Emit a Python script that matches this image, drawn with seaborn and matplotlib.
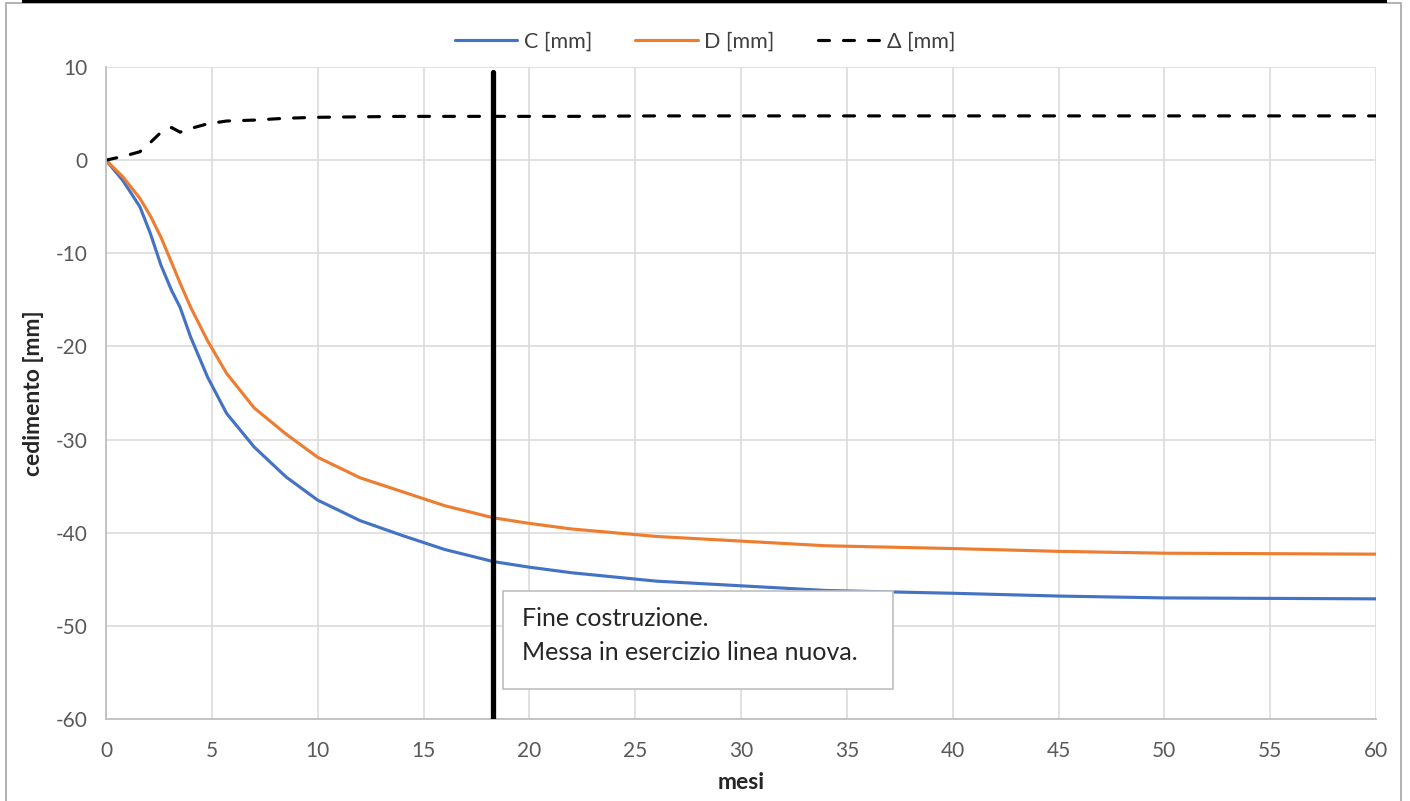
import pandas as pd
import numpy as np
import matplotlib
matplotlib.use("Agg")
import matplotlib.pyplot as plt
import seaborn as sns
from matplotlib.patches import Rectangle

# mesi e cedimenti
mesi = [0, 0.8, 1.6, 2.1, 2.6, 3.1, 3.5, 4.0, 4.8, 5.7, 7.0, 8.5, 10, 12, 14, 16,
        18.3, 20, 22, 26, 30, 34, 40, 45, 50, 55, 60]
ced_C = [0, -2.2, -5.0, -7.9, -11.3, -14.0, -15.8, -19.0, -23.3, -27.2, -30.8, -34.0,
         -36.5, -38.7, -40.3, -41.8, -43.1, -43.7, -44.3, -45.2, -45.7, -46.2, -46.5,
         -46.8, -47.0, -47.05, -47.1]
ced_D = [0, -1.8, -4.1, -6.0, -8.3, -11.0, -13.2, -15.8, -19.4, -22.9, -26.6, -29.4,
         -31.9, -34.1, -35.6, -37.1, -38.4, -39.0, -39.6, -40.4, -40.9, -41.4, -41.7,
         -42.0, -42.2, -42.25, -42.3]
delta = [0, 0.4, 0.9, 1.9, 3.0, 3.5, 3.0, 3.4, 3.9, 4.2, 4.3, 4.5, 4.6, 4.65, 4.7,
         4.7, 4.7, 4.7, 4.7, 4.75, 4.75, 4.75, 4.75, 4.75, 4.75, 4.75, 4.75]

fine_costruzione = 18.3
nota = ["Fine costruzione.", "Messa in esercizio linea nuova."]

sns.set_style("white")
plt.rcParams['font.family'] = ['Lato', 'DejaVu Sans']
plt.rcParams['axes.unicode_minus'] = False

df = pd.DataFrame({"mesi": mesi, "C [mm]": ced_C, "D [mm]": ced_D, "Δ [mm]": delta})

W, H = 1410, 801
fig = plt.figure(figsize=(W / 100, H / 100), dpi=100)
ax = fig.add_axes([106 / W, 1 - 719 / H, (1376 - 106) / W, (719 - 67) / H])

lw = 2.25
sns.lineplot(data=df, x="mesi", y="C [mm]", ax=ax, color="#4472C4", lw=lw, label="C [mm]")
sns.lineplot(data=df, x="mesi", y="D [mm]", ax=ax, color="#ED7D31", lw=lw, label="D [mm]")
sns.lineplot(data=df, x="mesi", y="Δ [mm]", ax=ax, color="black", lw=lw, label="Δ [mm]",
             dashes=False)
ax.lines[2].set_dashes((3.5, 4.5))
ax.lines[2].set_dash_capstyle("round")

# linea fine costruzione
ax.plot([fine_costruzione, fine_costruzione], [-60, 9.45], color="black", lw=3.8, zorder=5)

# box annotazione
ax.add_patch(Rectangle((18.75, -56.8), 37.18 - 18.75, 10.5, facecolor="white",
                       edgecolor="#bfbfbf", lw=1.2, zorder=6))
ax.text(19.65, -50.03, nota[0], fontsize=18, va="baseline", ha="left", zorder=7)
ax.text(19.65, -53.68, nota[1], fontsize=18, va="baseline", ha="left", zorder=7)

ax.set_xlim(0, 60)
ax.set_ylim(-60, 10)
ax.set_xticks(np.arange(0, 61, 5))
ax.set_yticks(np.arange(-60, 11, 10))
ax.grid(True, color="#d9d9d9", lw=1.1)
ax.set_axisbelow(True)
for s in ["top", "right"]:
    ax.spines[s].set_visible(False)
for s in ["left", "bottom"]:
    ax.spines[s].set_color("#bfbfbf")
    ax.spines[s].set_linewidth(1.3)
ax.tick_params(axis="both", length=0, labelsize=15, labelcolor="#595959")
ax.tick_params(axis="x", pad=16)
ax.tick_params(axis="y", pad=13)

ax.set_xlabel("mesi", fontsize=16.5, fontweight="bold", labelpad=8)
ax.set_ylabel("cedimento [mm]", fontsize=16.5, fontweight="bold", labelpad=9)

leg = ax.legend(loc="center", bbox_to_anchor=(0.5, (H - 42) / H), bbox_transform=fig.transFigure,
                ncol=3, frameon=False, fontsize=15.5, handlelength=2.9, handletextpad=0.3,
                columnspacing=2.0)
for t in leg.get_texts():
    t.set_color("#404040")

# cornice
fig.patches.append(Rectangle((5.5 / W, -0.05), (1401 - 5.5) / W, 1.05 - 3.5 / H,
                             transform=fig.transFigure, fill=False, edgecolor="#a6a6a6",
                             lw=1.2))
fig.patches.append(Rectangle((22 / W, 1 - 3 / H), (1387 - 22) / W, 3 / H,
                             transform=fig.transFigure, facecolor="black", edgecolor="none"))

fig.savefig("out.png", dpi=100)
